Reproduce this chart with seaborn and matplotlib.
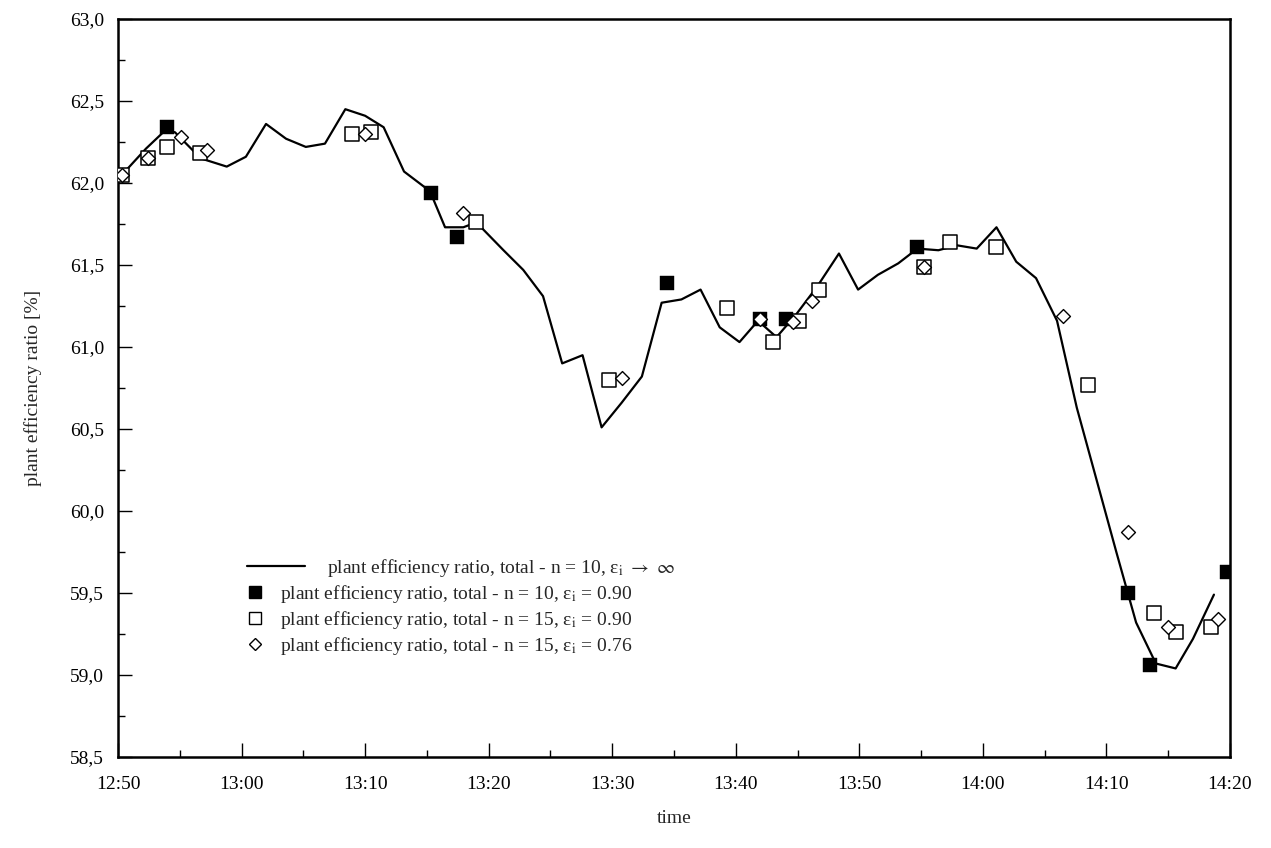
import matplotlib
matplotlib.use('Agg')
import matplotlib.pyplot as plt
import seaborn as sns
import pandas as pd
from matplotlib.lines import Line2D
from matplotlib.ticker import MultipleLocator, FuncFormatter

# ---------------- data (x = minutes after 12:50) ----------------
line_t = [0.2, 2.27, 3.67, 4.6, 6.7, 8.8, 10.35, 11.98, 13.6, 15.2, 16.75, 18.4, 20.0,
          21.5, 23.15, 25.25, 26.47, 27.95, 29.0, 31.2, 32.8, 34.4, 35.95, 37.6, 39.14,
          40.76, 42.4, 44.0, 45.6, 47.15, 48.7, 50.3, 51.8, 53.3, 54.9, 56.6, 58.35, 59.9,
          61.5, 63.15, 64.7, 66.4, 67.9, 69.5, 71.1, 72.7, 74.3, 76.0, 77.6, 79.2, 80.8,
          82.4, 84.0, 85.6, 87.0, 88.7]
line_v = [62.04, 62.21, 62.31, 62.31, 62.15, 62.10, 62.16, 62.36, 62.27, 62.22, 62.24, 62.45,
          62.41, 62.34, 62.07, 61.95, 61.73, 61.73, 61.76, 61.59, 61.47, 61.31, 60.90, 60.95,
          60.51, 60.66, 60.82, 61.27, 61.29, 61.35, 61.12, 61.03, 61.16, 61.06, 61.20, 61.37,
          61.57, 61.35, 61.44, 61.51, 61.60, 61.59, 61.62, 61.60, 61.73, 61.52, 61.42, 61.16,
          60.63, 60.19, 59.75, 59.32, 59.07, 59.04, 59.22, 59.49]

filled_t = [3.98, 25.3, 27.46, 44.45, 51.95, 54.05, 64.7, 81.75, 83.5, 89.73]
filled_v = [62.34, 61.94, 61.67, 61.39, 61.17, 61.17, 61.61, 59.50, 59.06, 59.63]

open_t = [0.3, 2.4, 4.0, 6.64, 18.9, 20.5, 29.0, 39.7, 49.3, 53.0, 55.1, 56.7, 65.26,
          67.3, 71.1, 78.5, 83.87, 85.6, 88.5]
open_v = [62.05, 62.15, 62.22, 62.18, 62.30, 62.31, 61.76, 60.80, 61.24, 61.03, 61.16,
          61.35, 61.49, 61.64, 61.61, 60.77, 59.38, 59.26, 59.29]

diam_t = [0.3, 2.4, 5.07, 7.18, 20.0, 27.95, 40.76, 51.95, 54.65, 56.2, 65.26, 76.45,
          81.75, 84.95, 89.0]
diam_v = [62.05, 62.15, 62.28, 62.20, 62.30, 61.82, 60.81, 61.17, 61.15, 61.28, 61.49,
          61.19, 59.87, 59.29, 59.34]

time_ticks = [0, 10, 20, 30, 40, 50, 60, 70, 80, 90]
time_labels = ['12:50', '13:00', '13:10', '13:20', '13:30', '13:40', '13:50',
               '14:00', '14:10', '14:20']

labels = [r'plant efficiency ratio, total - n = 10, ε$_{\mathrm{i}}$ $\rightarrow$ $\infty$',
          r'plant efficiency ratio, total - n = 10, ε$_{\mathrm{i}}$ = 0.90',
          r'plant efficiency ratio, total - n = 15, ε$_{\mathrm{i}}$ = 0.90',
          r'plant efficiency ratio, total - n = 15, ε$_{\mathrm{i}}$ = 0.76']

# ---------------- style ----------------
sns.set_theme(style='white')
plt.rcParams['font.family'] = ['Liberation Serif', 'DejaVu Serif']
plt.rcParams['mathtext.fontset'] = 'stix'
FS = 14

W, H = 1271, 848
fig = plt.figure(figsize=(W / 100, H / 100), dpi=100)
L, R, T, B = 118, 1230, 19, 757
ax = fig.add_axes([L / W, 1 - B / H, (R - L) / W, (B - T) / H])

df_line = pd.DataFrame({'t': line_t, 'v': line_v})
df_f = pd.DataFrame({'t': filled_t, 'v': filled_v})
df_o = pd.DataFrame({'t': open_t, 'v': open_v})
df_d = pd.DataFrame({'t': diam_t, 'v': diam_v})

sns.lineplot(data=df_line, x='t', y='v', ax=ax, color='black', linewidth=1.6,
             zorder=2, legend=False)
sns.scatterplot(data=df_o, x='t', y='v', ax=ax, marker='s', s=90, color='white',
                edgecolor='black', linewidth=1.1, zorder=3, legend=False)
sns.scatterplot(data=df_f, x='t', y='v', ax=ax, marker='s', s=105, color='black',
                edgecolor='black', linewidth=0.3, zorder=4, legend=False)
sns.scatterplot(data=df_d, x='t', y='v', ax=ax, marker='D', s=50, color='white',
                edgecolor='black', linewidth=1.0, zorder=5, legend=False)

ax.set_xlim(0, 90)
ax.set_ylim(58.5, 63.0)
ax.set_xticks(time_ticks)
ax.set_xticklabels(time_labels)
ax.xaxis.set_minor_locator(MultipleLocator(5))
ax.yaxis.set_major_locator(MultipleLocator(0.5))
ax.yaxis.set_minor_locator(MultipleLocator(0.25))
ax.yaxis.set_major_formatter(FuncFormatter(lambda v, p: f'{v:.1f}'.replace('.', ',')))

ax.tick_params(which='both', direction='in', top=False, right=False,
               bottom=True, left=True, colors='black', labelsize=FS, width=1.0)
ax.tick_params(which='major', length=10)
ax.tick_params(axis='x', which='major', pad=14)
ax.tick_params(axis='y', which='major', pad=10)
ax.tick_params(which='minor', length=5)
for s in ax.spines.values():
    s.set_color('black')
    s.set_linewidth(1.8)

ax.set_xlabel('time', fontsize=FS, labelpad=12)
ax.set_ylabel('plant efficiency ratio [%]', fontsize=FS, labelpad=20)

# ---------------- legend ----------------
h_line = Line2D([], [], color='black', linewidth=1.6)
leg1 = fig.legend([h_line], [labels[0]], loc='center left',
                  bbox_to_anchor=(247 / W, 1 - 568 / H), bbox_transform=fig.transFigure,
                  frameon=False, fontsize=FS, handlelength=3.0, handletextpad=1.1,
                  borderpad=0, borderaxespad=0)
h_f = Line2D([], [], linestyle='none', marker='s', markersize=8, color='black')
h_o = Line2D([], [], linestyle='none', marker='s', markersize=8,
             markerfacecolor='white', markeredgecolor='black', markeredgewidth=1.0)
h_d = Line2D([], [], linestyle='none', marker='D', markersize=6,
             markerfacecolor='white', markeredgecolor='black', markeredgewidth=1.0)
leg2 = fig.legend([h_f, h_o, h_d], labels[1:], loc='center left',
                  bbox_to_anchor=(247 / W, 1 - 620 / H), bbox_transform=fig.transFigure,
                  frameon=False, fontsize=FS, handlelength=0.8, handletextpad=0.9,
                  borderpad=0, borderaxespad=0, labelspacing=0.2)

fig.savefig('out.png', dpi=100, facecolor='white')
